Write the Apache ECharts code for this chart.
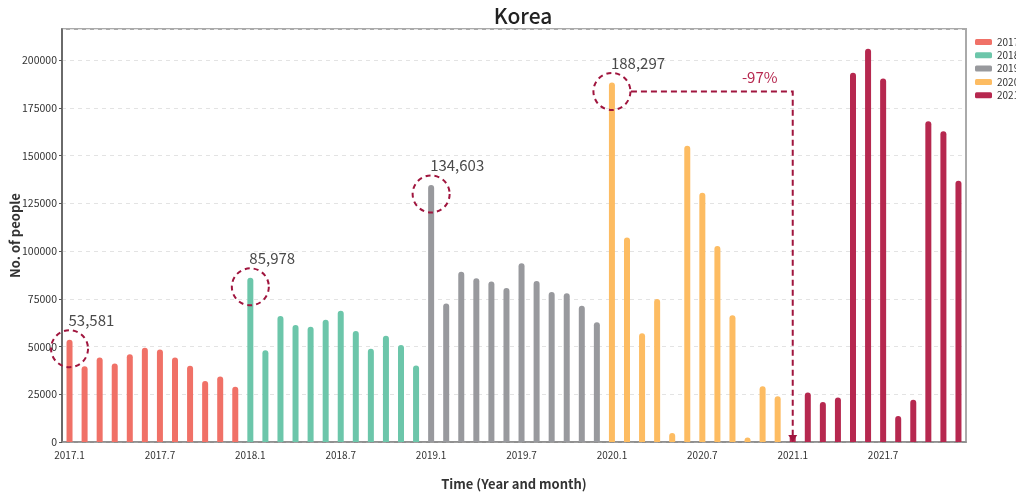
<!DOCTYPE html>
<html>
<head>
<meta charset="utf-8">
<script src="https://cdn.jsdelivr.net/npm/echarts@6/dist/echarts.min.js"></script>
<style>
  html, body { margin: 0; padding: 0; background: #fff; }
  #main { width: 1016px; height: 497px; }
</style>
</head>
<body>
<div id="main"></div>
<script>
const years = ['2017', '2018', '2019', '2020', '2021'];
const colors = ['#f07167', '#6cc6aa', '#98999d', '#fdbc62', '#b6284f'];

const months = [];
years.forEach(function (y) {
    for (let m = 1; m <= 12; m++) months.push(y + '.' + m);
});

const v2017 = [53581, 39700, 44300, 41100, 45900, 49300, 48500, 44300, 39900, 31900, 34300, 28900];
const v2018 = [85978, 48100, 66000, 61300, 60400, 64000, 68700, 58100, 48800, 55600, 50800, 40100];
const v2019 = [134603, 72600, 89200, 85800, 84000, 80700, 93600, 84300, 78600, 77900, 71400, 62700];
const v2020 = [188297, 107100, 56900, 74900, 4700, 155200, 130500, 102600, 66400, 2300, 29200, 24000];
const v2021 = [3500, 25900, 21000, 23300, 193400, 206000, 190400, 13600, 22100, 168000, 162700, 136800];
const yearValues = [v2017, v2018, v2019, v2020, v2021];

// months whose peak gets a dashed circle
const highlights = ['2017.1', '2018.1', '2019.1', '2020.1'];
// the drop annotation
const dropFrom = '2020.1';
const dropTo = '2021.1';
const dropText = '-97%';

const accent = '#a0153e';

const chart = echarts.init(document.getElementById('main'));

const series = years.map(function (y, i) {
    const data = months.map(function (m, j) {
        const yi = Math.floor(j / 12);
        return yi === i ? yearValues[i][j % 12] : '-';
    });
    const marks = [];
    highlights.forEach(function (h) {
        const idx = months.indexOf(h);
        if (Math.floor(idx / 12) === i) {
            marks.push({ coord: [idx, data[idx]], value: data[idx] });
        }
    });
    return {
        name: y,
        type: 'bar',
        stack: 'all',
        barWidth: 6,
        data: data,
        itemStyle: { color: colors[i], borderRadius: [3, 3, 0, 0] },
        markPoint: marks.length ? {
            symbol: 'circle',
            symbolSize: 37,
            symbolOffset: [0, 9],
            silent: true,
            itemStyle: {
                color: 'rgba(0,0,0,0)',
                borderColor: accent,
                borderWidth: 2,
                borderType: [5, 4]
            },
            label: {
                show: true,
                position: [18.5, -9],
                align: 'left',
                verticalAlign: 'middle',
                fontSize: 15,
                color: '#4a4a4a',
                formatter: function (p) { return p.value.toLocaleString('en-US'); }
            },
            data: marks
        } : undefined
    };
});

// dashed elbow arrow from the 2020.1 circle down to 2021.1
series.push({
    type: 'custom',
    name: 'drop',
    silent: true,
    z: 5,
    data: [[months.indexOf(dropFrom), v2020[0]]],
    renderItem: function (params, api) {
        const fromIdx = months.indexOf(dropFrom);
        const toIdx = months.indexOf(dropTo);
        const a = api.coord([fromIdx, v2020[0]]);
        const b = api.coord([toIdx, 0]);
        const ly = a[1] + 9;
        const sx = a[0] + 19;
        const head = 7;
        return {
            type: 'group',
            children: [
                {
                    type: 'polyline',
                    shape: { points: [[sx, ly], [b[0], ly], [b[0], b[1] - head]] },
                    style: { stroke: accent, lineWidth: 2, lineDash: [6, 4], fill: null }
                },
                {
                    type: 'polygon',
                    shape: { points: [[b[0] - 4.5, b[1] - head], [b[0] + 4.5, b[1] - head], [b[0], b[1]]] },
                    style: { fill: accent }
                },
                {
                    type: 'text',
                    x: b[0] - 33,
                    y: ly - 14,
                    style: {
                        text: dropText,
                        fill: '#b6284f',
                        fontSize: 15,
                        fontFamily: 'Noto Sans CJK KR',
                        align: 'center',
                        verticalAlign: 'middle'
                    }
                }
            ]
        };
    }
});

const option = {
    animation: false,
    textStyle: { fontFamily: 'Noto Sans CJK KR' },
    title: {
        text: 'Korea',
        left: 518,
        top: 1,
        textAlign: 'center',
        textStyle: { fontSize: 21, fontWeight: 500, color: '#222' }
    },
    legend: {
        data: years,
        orient: 'vertical',
        left: 970,
        top: 32,
        itemWidth: 17,
        itemHeight: 6,
        itemGap: 3.3,
        icon: 'roundRect',
        textStyle: { fontSize: 10, color: '#333' }
    },
    grid: {
        left: 62,
        right: 50,
        top: 29,
        bottom: 55,
        outerBoundsMode: 'none',
        containLabel: false,
        show: true,
        borderColor: '#aaa',
        borderWidth: 2
    },
    xAxis: {
        type: 'category',
        data: months,
        name: 'Time (Year and month)',
        nameLocation: 'middle',
        nameGap: 36,
        nameMoveOverlap: false,
        nameTextStyle: { fontSize: 13, fontWeight: 'bold', color: '#333' },
        axisLine: { lineStyle: { color: '#888', width: 1.5 } },
        axisTick: { alignWithLabel: true, interval: 0, length: 4, lineStyle: { color: '#888' } },
        axisLabel: { interval: 5, fontSize: 10, color: '#333', margin: 8 },
        splitLine: { show: false }
    },
    yAxis: {
        type: 'value',
        min: 0,
        max: function (v) { return Math.round(v.max * 1.05); },
        interval: 25000,
        name: 'No. of people',
        nameLocation: 'middle',
        nameGap: 40,
        nameMoveOverlap: false,
        nameTextStyle: { fontSize: 13, fontWeight: 'bold', color: '#333' },
        axisLine: { show: true, lineStyle: { color: '#555', width: 1.5 } },
        axisTick: { show: true, length: 3, lineStyle: { color: '#555' } },
        axisLabel: {
            fontSize: 10.5,
            color: '#333',
            margin: 5,
            showMaxLabel: false,
            formatter: function (v) { return String(v); }
        },
        splitLine: { lineStyle: { color: '#e3e3e3', type: [4, 4] } }
    },
    series: series
};

chart.setOption(option);
</script>
</body>
</html>
